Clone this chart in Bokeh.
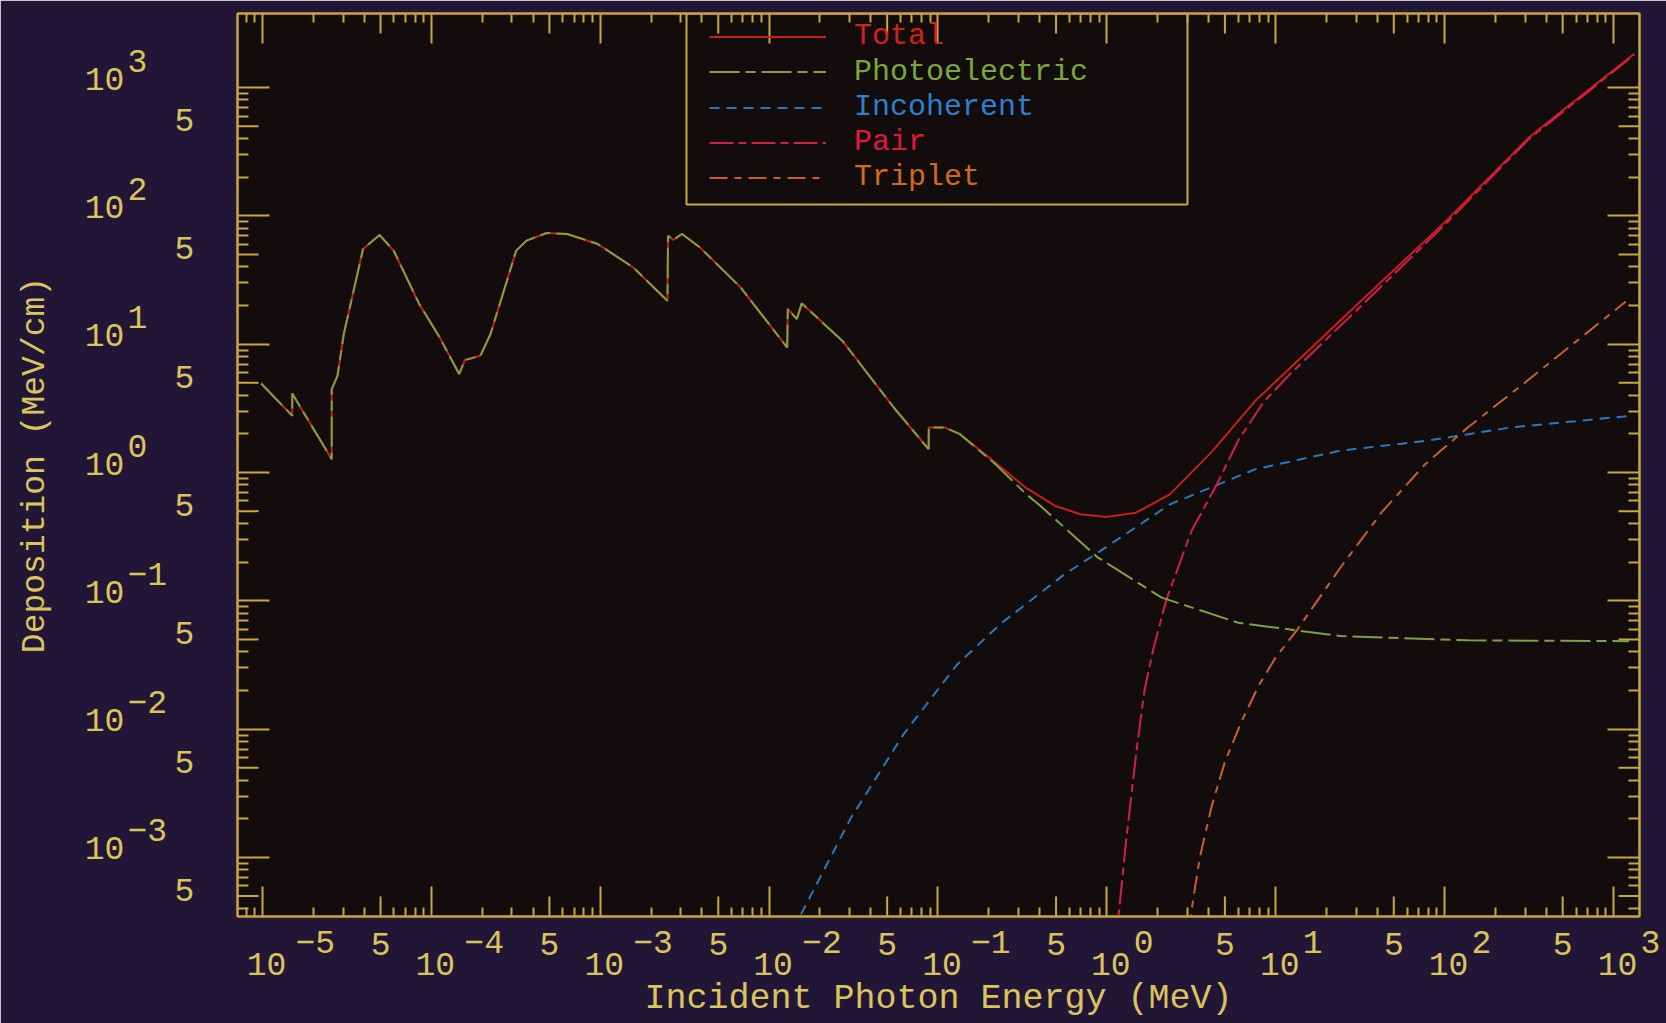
import math
from bokeh.plotting import figure
from bokeh.models import (Range1d, LogAxis, FixedTicker, Legend, LegendItem, BoxAnnotation)
from bokeh.core.properties import value
from bokeh.embed import file_html
from bokeh.resources import INLINE

# ---------------- data (MeV, MeV/cm) ----------------
photo_E = [9.82e-6, 1.50e-5, 1.50e-5, 2.57e-5, 2.57e-5, 2.78e-5, 3.03e-5, 3.94e-5, 4.93e-5, 5.98e-5,
           8.47e-5, 1.12e-4, 1.46e-4, 1.58e-4, 1.95e-4, 2.24e-4, 3.18e-4, 3.66e-4, 4.82e-4, 6.37e-4,
           9.66e-4, 1.57e-3, 2.50e-3, 2.52e-3, 2.71e-3, 3.05e-3, 3.89e-3, 6.78e-3, 1.28e-2, 1.29e-2,
           1.46e-2, 1.56e-2, 2.72e-2, 5.47e-2, 8.80e-2, 8.82e-2, 0.110, 0.135, 0.219, 0.333,
           0.394, 0.887, 2.11, 6.00, 24.1, 137.0, 1236.0]
photo_val = [4.94, 2.77, 4.12, 1.27, 4.47, 5.66, 12.0, 55.2, 71.0, 53.6,
             20.6, 11.3, 5.85, 7.52, 8.13, 12.0, 53.6, 64.1, 73.6, 72.3,
             60.4, 39.6, 21.8, 70.1, 64.9, 72.3, 56.8, 27.7, 9.42, 18.8,
             15.7, 20.8, 10.6, 3.21, 1.52, 2.24, 2.24, 1.99, 1.16, 0.678,
             0.566, 0.217, 0.106, 0.0675, 0.0531, 0.0492, 0.0485]

total_E = [9.82e-6, 1.50e-5, 1.50e-5, 2.57e-5, 2.57e-5, 2.78e-5, 3.03e-5, 3.94e-5, 4.93e-5, 5.98e-5,
           8.47e-5, 1.12e-4, 1.46e-4, 1.58e-4, 1.95e-4, 2.24e-4, 3.18e-4, 3.66e-4, 4.82e-4, 6.37e-4,
           9.66e-4, 1.57e-3, 2.50e-3, 2.52e-3, 2.71e-3, 3.05e-3, 3.89e-3, 6.78e-3, 1.28e-2, 1.29e-2,
           1.46e-2, 1.56e-2, 2.72e-2, 5.47e-2, 8.80e-2, 8.82e-2, 0.110, 0.135, 0.219, 0.331,
           0.497, 0.697, 1.00, 1.49, 2.37, 4.24, 7.57, 10.1, 31.6, 100.0,
           316.0, 484.0, 1327.0]
total_val = [4.94, 2.77, 4.12, 1.27, 4.47, 5.66, 12.0, 55.2, 71.0, 53.6,
             20.6, 11.3, 5.85, 7.52, 8.13, 12.0, 53.6, 64.1, 73.6, 72.3,
             60.4, 39.6, 21.8, 70.1, 64.9, 72.3, 56.8, 27.7, 9.42, 18.8,
             15.7, 20.8, 10.6, 3.21, 1.52, 2.24, 2.24, 1.99, 1.19, 0.762,
             0.548, 0.473, 0.451, 0.486, 0.678, 1.48, 3.62, 5.18, 21.4, 89.0,
             408.0, 641.0, 1832.0]

incoh_E = [0.0126, 0.0151, 0.0303, 0.0624, 0.129, 0.234, 0.55, 0.887, 2.37, 7.57,
           24.1, 76.7, 244.0, 1236.0]
incoh_val = [3.2e-5, 3.4e-4, 2.0e-3, 9.1e-3, 0.0316, 0.066, 0.158, 0.238, 0.566, 1.06,
             1.48, 1.76, 2.24, 2.76]

pair_E = [1.07, 1.17, 1.30, 1.51, 1.67, 1.88, 2.24, 3.17, 4.49, 6.00,
          8.49, 12.0, 31.6, 100.0, 316.0, 1327.0]
pair_val = [1.0e-5, 3.4e-4, 1.35e-3, 7.4e-3, 0.020, 0.0417, 0.100, 0.350, 0.813, 1.78,
            3.55, 5.75, 19.5, 85.0, 398.0, 1800.0]

trip_E = [2.95, 3.12, 3.55, 4.17, 5.01, 6.31, 7.94, 10.0, 13.5, 24.1,
          43.0, 76.7, 137.0, 308.0, 1183.0]
trip_val = [3.2e-5, 3.4e-4, 1.0e-3, 2.5e-3, 5.6e-3, 0.0117, 0.0219, 0.0363, 0.0603, 0.181,
            0.501, 1.16, 2.24, 5.18, 21.5]

series_names = ["Total", "Photoelectric", "Incoherent", "Pair", "Triplet"]
x_title = "Incident Photon Energy (MeV)"
y_title = "Deposition (MeV/cm)"

# tick values / labels
x_decades = [1e-5, 1e-4, 1e-3, 1e-2, 1e-1, 1e0, 1e1, 1e2, 1e3]
x_exponents = ["\u22125", "\u22124", "\u22123", "\u22122", "\u22121", "0", "1", "2", "3"]
x_fives = [5e-5, 5e-4, 5e-3, 5e-2, 5e-1, 5e0, 5e1, 5e2]
y_decades = [1e-3, 1e-2, 1e-1, 1e0, 1e1, 1e2, 1e3]
y_exponents = ["\u22123", "\u22122", "\u22121", "0", "1", "2", "3"]
y_fives = [5e-4, 5e-3, 5e-2, 5e-1, 5e0, 5e1, 5e2]
x_minor = [m * 10.0 ** n for n in range(-6, 3) for m in (2, 3, 4, 6, 7, 8, 9)]
y_minor = [m * 10.0 ** n for n in range(-4, 3) for m in (2, 3, 4, 6, 7, 8, 9)]
x_minor = [v for v in x_minor if 10 ** -5.148 < v < 10 ** 3.154]
y_minor = [v for v in y_minor if 10 ** -3.46 < v < 10 ** 3.577]

# ---------------- layout / style ----------------
W, H = 1666, 1023
FL, FR, FT, FB = 237, 1639, 13, 916
X_LOG = (-5.148, 3.154)
Y_LOG = (-3.46, 3.577)

BORDER = "#221637"
PLOTBG = "#130c0d"
AX = "#c8a83c"
TXT = "#dcc45c"
FONT = "Liberation Mono"
TICK_FS = "33px"

C_TOTAL = "#c81e1e"
C_PHOTO = "#7ea23e"
C_INCOH = "#2a78bc"
C_PAIR = "#d41e4a"
C_TRIP = "#c8602a"
T_TOTAL = "#d42020"
T_PHOTO = "#7aa83a"
T_INCOH = "#2c80d0"
T_PAIR = "#e0183c"
T_TRIP = "#d06a20"


def px_to_x(px):
    return 10 ** (X_LOG[0] + (px - FL) / (FR - FL) * (X_LOG[1] - X_LOG[0]))


def py_to_y(py):
    return 10 ** (Y_LOG[1] - (py - FT) / (FB - FT) * (Y_LOG[1] - Y_LOG[0]))


xmin, xmax = 10 ** X_LOG[0], 10 ** X_LOG[1]
ymin, ymax = 10 ** Y_LOG[0], 10 ** Y_LOG[1]

p = figure(width=W, height=H, x_axis_type="log", y_axis_type="log",
           x_range=Range1d(xmin, xmax), y_range=Range1d(ymin, ymax),
           output_backend="svg", toolbar_location=None,
           min_border_left=FL, min_border_right=W - FR, min_border_top=FT, min_border_bottom=H - FB,
           background_fill_color=PLOTBG, border_fill_color=BORDER,
           outline_line_color=AX, outline_line_width=2)
p.grid.visible = False


def style_axis(ax, ticks, minors, major_len, minor_len):
    ax.ticker = FixedTicker(ticks=ticks, minor_ticks=minors)
    ax.major_tick_in = major_len
    ax.major_tick_out = 0
    ax.minor_tick_in = minor_len
    ax.minor_tick_out = 0
    ax.major_tick_line_color = AX
    ax.minor_tick_line_color = AX
    ax.major_tick_line_width = 2
    ax.minor_tick_line_width = 2
    ax.axis_line_color = AX
    ax.axis_line_width = 2
    ax.major_label_overrides = {t: "" for t in ticks}
    ax.major_label_text_font_size = "0px"
    ax.major_label_standoff = 0


style_axis(p.xaxis[0], x_decades, x_minor, 30, 9)
style_axis(p.yaxis[0], y_decades, y_minor, 32, 11)
top_ax = LogAxis()
style_axis(top_ax, x_decades, x_minor, 30, 9)
p.add_layout(top_ax, "above")
right_ax = LogAxis()
style_axis(right_ax, y_decades, y_minor, 32, 11)
p.add_layout(right_ax, "right")

# medium ticks at the "5" positions
p.ray(x=x_fives, y=[ymin] * len(x_fives), length=20, angle=math.pi / 2, length_units="screen",
      line_color=AX, line_width=2)
p.ray(x=x_fives, y=[ymax] * len(x_fives), length=20, angle=-math.pi / 2, length_units="screen",
      line_color=AX, line_width=2)
p.ray(x=[xmin] * len(y_fives), y=y_fives, length=21, angle=0, length_units="screen",
      line_color=AX, line_width=2)
p.ray(x=[xmax] * len(y_fives), y=y_fives, length=21, angle=math.pi, length_units="screen",
      line_color=AX, line_width=2)

# ---------------- curves ----------------
r_total = p.line(total_E, total_val, line_color=C_TOTAL, line_width=2)
r_incoh = p.line(incoh_E, incoh_val, line_color=C_INCOH, line_width=2, line_dash="10 7")
r_pair = p.line(pair_E, pair_val, line_color=C_PAIR, line_width=2, line_dash="24 5 8 5")
r_trip = p.line(trip_E, trip_val, line_color=C_TRIP, line_width=2, line_dash="18 7 7 7")
r_photo = p.line(photo_E, photo_val, line_color=C_PHOTO, line_width=2, line_dash="30 6 10 6")

# ---------------- legend ----------------
LEG_LEFT, LEG_RIGHT, LEG_TOP, LEG_BOTTOM = 686, 1187, 13, 204
LEG_GLYPH_X = 709
LEG_ROWS = [36, 71.5, 107, 142, 177]
ROW_H = 35
entries = [(series_names[0], r_total, T_TOTAL), (series_names[1], r_photo, T_PHOTO),
           (series_names[2], r_incoh, T_INCOH), (series_names[3], r_pair, T_PAIR),
           (series_names[4], r_trip, T_TRIP)]
for (lab, rend, col), cy in zip(entries, LEG_ROWS):
    leg = Legend(items=[LegendItem(label=value(lab), renderers=[rend])],
                 location=(LEG_GLYPH_X - FL, FB - (cy + ROW_H / 2)),
                 orientation="vertical", padding=0, margin=0, spacing=0,
                 glyph_width=117, glyph_height=ROW_H, label_height=ROW_H, label_width=309,
                 label_standoff=28, border_line_alpha=0, background_fill_alpha=0,
                 label_text_font=FONT, label_text_font_size="30px", label_text_color=col,
                 label_text_baseline="middle")
    p.add_layout(leg)

p.add_layout(BoxAnnotation(left=px_to_x(LEG_LEFT), right=px_to_x(LEG_RIGHT),
                           top=py_to_y(LEG_TOP), bottom=py_to_y(LEG_BOTTOM),
                           fill_alpha=0, line_color=AX, line_width=2, line_alpha=1))


# ---------------- tick labels (text glyphs drawn above the frame clip) ----------------
def tick_text(xs, ys, texts, xo, yo, align, size=TICK_FS, angle=0.0):
    p.text(x=xs, y=ys, text=texts, x_offset=xo, y_offset=yo, angle=angle,
           text_align=align, text_baseline="middle",
           text_font=value(FONT), text_font_size=value(size), text_color=TXT,
           level="overlay")


nx, ny = len(x_decades), len(y_decades)
x_sup_offsets = [33 if e.startswith("\u2212") else 27 for e in x_exponents]
tick_text(x_decades, [ymin] * nx, ["10"] * nx, 4, 47, "center")
tick_text(x_decades, [ymin] * nx, x_exponents, x_sup_offsets, 25, "left")
tick_text(x_fives, [ymin] * len(x_fives), ["5"] * len(x_fives), 0, 27, "center")

tick_text([xmin] * ny, y_decades, ["10"] * ny, -133, -9, "center")
tick_text([xmin] * ny, y_decades, y_exponents, -110, -27, "left")
tick_text([xmin] * len(y_fives), y_fives, ["5"] * len(y_fives), -53, -6, "center")

# ---------------- axis titles ----------------
tick_text([math.sqrt(xmin * xmax)], [ymin], [x_title], 0, 998 - FB, "center", size="35px")
tick_text([xmin], [math.sqrt(ymin * ymax)], [y_title], -(FL - 35), 0, "center", size="33px",
          angle=math.pi / 2)

open("out.html", "w").write(file_html(p, INLINE))
